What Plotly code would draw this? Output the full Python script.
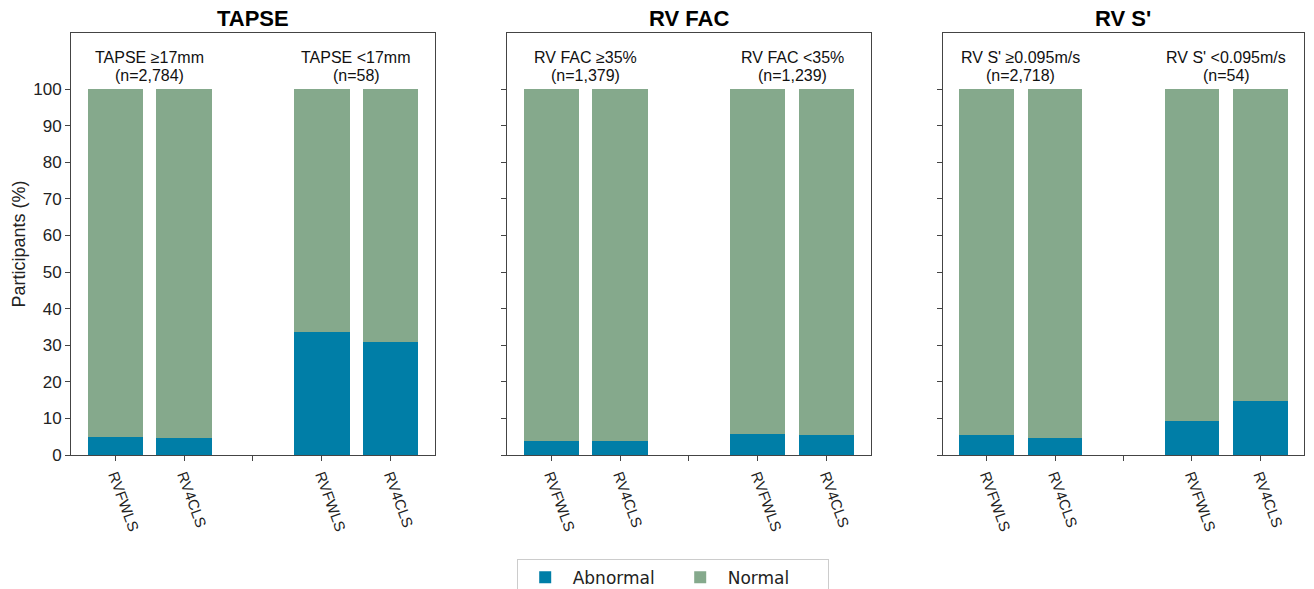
import plotly.graph_objects as go

panels = ["TAPSE", "RV FAC", "RV S'"]
group_line1 = [
    ["TAPSE ≥17mm", "TAPSE <17mm"],
    ["RV FAC ≥35%", "RV FAC <35%"],
    ["RV S' ≥0.095m/s", "RV S' <0.095m/s"],
]
group_line2 = [
    ["(n=2,784)", "(n=58)"],
    ["(n=1,379)", "(n=1,239)"],
    ["(n=2,718)", "(n=54)"],
]
tick_labels = ["RVFWLS", "RV4CLS", "", "RVFWLS", "RV4CLS"]

abnormal = [
    [4.9, 4.6, 33.7, 30.9],
    [3.9, 3.7, 5.7, 5.4],
    [5.5, 4.7, 9.4, 14.8],
]
normal = [
    [95.1, 95.4, 66.3, 69.1],
    [96.1, 96.3, 94.3, 94.6],
    [94.5, 95.3, 90.6, 85.2],
]

C_ABN = "#007EA7"
C_NOR = "#85A98C"
FONT = "Liberation Sans, Arial, sans-serif"

bar_pos = [0, 1, 3, 4]
domains = [[0.0, 0.2952], [0.3536, 0.6488], [0.7072, 1.0]]

fig = go.Figure()
for i in range(3):
    xa = "x" if i == 0 else f"x{i+1}"
    ya = "y" if i == 0 else f"y{i+1}"
    fig.add_trace(go.Bar(x=bar_pos, y=abnormal[i], name="Abnormal", marker_color=C_ABN,
                         marker_line_width=0, width=0.8, xaxis=xa, yaxis=ya,
                         legendgroup="a", showlegend=(i == 0)))
    fig.add_trace(go.Bar(x=bar_pos, y=normal[i], name="Normal", marker_color=C_NOR,
                         marker_line_width=0, width=0.8, xaxis=xa, yaxis=ya,
                         legendgroup="n", showlegend=(i == 0)))

layout = dict(
    width=1314, height=589,
    margin=dict(l=71, r=10, t=33, b=134, autoexpand=False),
    barmode="stack",
    plot_bgcolor="white", paper_bgcolor="white",
    font=dict(family=FONT, size=15, color="#222"),
    legend=dict(orientation="h", x=0.488, xanchor="center", y=-0.246, yanchor="top",
                bordercolor="#cccccc", borderwidth=1,
                font=dict(family="DejaVu Sans, sans-serif", size=17, color="#222"),
                itemwidth=45, entrywidth=95, entrywidthmode="pixels",
                traceorder="normal"),
)
axis_common = dict(showline=True, mirror=True, linecolor="#444", linewidth=1,
                   ticks="outside", ticklen=5, tickcolor="#444", showgrid=False,
                   zeroline=False, automargin=False)
for i in range(3):
    sx = "" if i == 0 else str(i + 1)
    layout[f"xaxis{sx}"] = dict(domain=domains[i], range=[-0.64, 4.64], tickmode="array",
                                tickvals=[0, 1, 2, 3, 4], ticktext=tick_labels, tickangle=70,
                                anchor=f"y{sx}", tickfont=dict(size=15), **axis_common)
    ydict = dict(domain=[0, 1], range=[0, 115.3], tickmode="array",
                 tickvals=list(range(0, 101, 10)), anchor=f"x{sx}", tickfont=dict(size=17),
                 **axis_common)
    if i == 0:
        ydict["title"] = dict(text="Participants (%)", font=dict(size=18), standoff=2)
    else:
        ydict["showticklabels"] = False
        ydict["matches"] = "y"
    layout[f"yaxis{sx}"] = ydict

fig.update_layout(**layout)

for i in range(3):
    sx = "" if i == 0 else str(i + 1)
    fig.add_annotation(text=f"<b>{panels[i]}</b>", xref=f"x{sx} domain", yref=f"y{sx} domain",
                       x=0.5, y=1, yanchor="bottom", yshift=0, showarrow=False,
                       font=dict(size=22, color="black", family=FONT))
    for g, gx in enumerate([0.5, 3.5]):
        fig.add_annotation(text=group_line1[i][g], xref=f"x{sx}", yref=f"y{sx}",
                           x=gx, y=108.6, showarrow=False,
                           font=dict(size=16, color="#111", family=FONT))
        fig.add_annotation(text=group_line2[i][g], xref=f"x{sx}", yref=f"y{sx}",
                           x=gx, y=103.7, showarrow=False,
                           font=dict(size=16, color="#111", family=FONT))

fig.write_html("out.html", config={"displayModeBar": False},
               post_script="document.body.style.margin='0';")
